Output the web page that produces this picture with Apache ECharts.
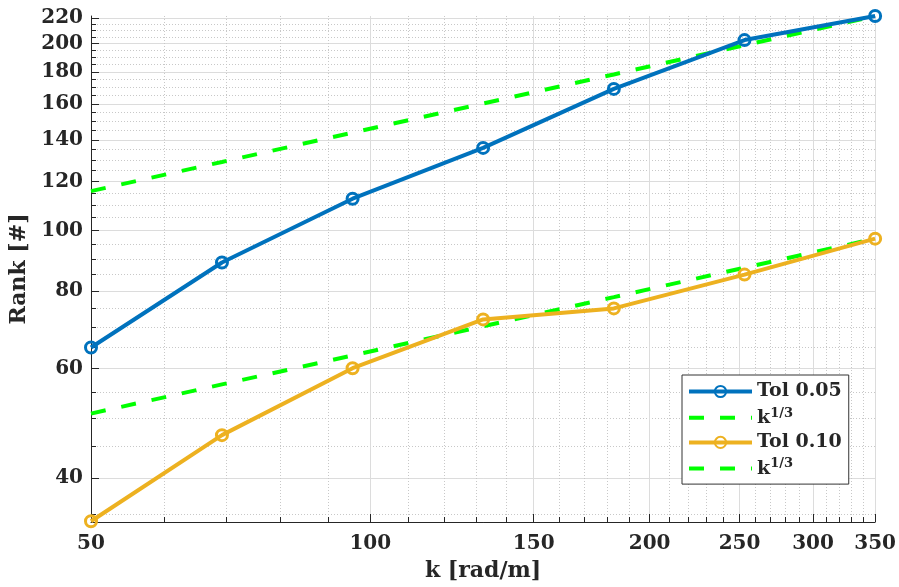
<!DOCTYPE html>
<html>
<head>
<meta charset="utf-8">
<script src="https://cdn.jsdelivr.net/npm/echarts@6/dist/echarts.min.js"></script>
<style>
  html, body { margin: 0; padding: 0; background: #ffffff; }
  #chart { width: 899px; height: 587px; }
</style>
</head>
<body>
<div id="chart"></div>
<script>
// Wavenumber samples (rad/m)
const kValues = [50, 69.2, 95.7, 132.3, 183.0, 253.1, 350];
// Rank for tolerance 0.05 and its k^(1/3) reference line
const rankTol005 = [64.9, 88.9, 112.6, 135.9, 169.1, 202.6, 221.5];
const fitTol005 = [115.8, 129.0, 143.8, 160.2, 178.4, 198.8, 221.5];
// Rank for tolerance 0.10 and its k^(1/3) reference line
const rankTol010 = [34.1, 46.9, 60.1, 72.0, 75.0, 85.0, 97.1];
const fitTol010 = [50.8, 56.6, 63.0, 70.2, 78.2, 87.2, 97.1];

// Tick values
const xMajorTicks = [50, 100, 150, 200, 250, 300, 350];
const xMinorTicks = [60, 70, 80, 90, 110, 120, 130, 140, 160, 170, 180, 190,
  210, 220, 230, 240, 260, 270, 280, 290, 310, 320, 330, 340];
const yMajorTicks = [40, 60, 80, 100, 120, 140, 160, 180, 200, 220];
const yMinorTicks = [35, 45, 50, 55, 65, 70, 75, 85, 90, 95, 105, 110, 115,
  125, 130, 135, 145, 150, 155, 165, 170, 175, 185, 190, 195, 205, 210, 215];

const X_MIN = 50, X_MAX = 350, Y_MIN = 34.0, Y_MAX = 221.5;

const FONT = 'DejaVu Serif';
const INK = '#262626';
const BLUE = '#0072BD';
const ORANGE = '#EDB120';
const GREEN = '#00FF00';

const pairs = ys => kValues.map((k, i) => [k, ys[i]]);

const majorAxisCommon = {
  type: 'log',
  logBase: 10,
  axisLine: { show: true, lineStyle: { color: INK, width: 1 } },
  axisTick: { show: true, inside: true, length: 8, lineStyle: { color: INK, width: 1 } },
  axisLabel: { color: INK, fontFamily: FONT, fontWeight: 'bold', fontSize: 20 },
  splitLine: { show: true, lineStyle: { color: '#dcdcdc', width: 1, type: 'solid' } },
  minorTick: { show: false },
  minorSplitLine: { show: false },
  nameLocation: 'middle',
  nameTextStyle: { color: INK, fontFamily: FONT, fontWeight: 'bold', fontSize: 22 }
};

const minorAxisCommon = {
  type: 'log',
  logBase: 10,
  axisLine: { show: false },
  axisTick: { show: true, inside: true, length: 5, lineStyle: { color: INK, width: 1 } },
  axisLabel: { show: false },
  splitLine: { show: true, lineStyle: { color: '#c8c8c8', width: 1, type: [1, 2] } },
  minorTick: { show: false },
  minorSplitLine: { show: false }
};

const lineSeries = (name, data, color) => ({
  name: name,
  type: 'line',
  xAxisIndex: 0,
  yAxisIndex: 0,
  data: pairs(data),
  symbol: 'circle',
  symbolSize: 11,
  showSymbol: true,
  lineStyle: { color: color, width: 4 },
  itemStyle: { color: 'rgba(255,255,255,0)', borderColor: color, borderWidth: 3 },
  emphasis: { disabled: true },
  z: 3
});

const fitSeries = (name, data) => ({
  name: name,
  type: 'line',
  xAxisIndex: 0,
  yAxisIndex: 0,
  data: pairs(data),
  symbol: 'none',
  showSymbol: false,
  lineStyle: { color: GREEN, width: 4, type: [15, 16] },
  itemStyle: { color: 'rgba(0,0,0,0)', borderWidth: 0 },
  emphasis: { disabled: true },
  z: 2
});

const chart = echarts.init(document.getElementById('chart'), null, { renderer: 'canvas' });

chart.setOption({
  animation: false,
  backgroundColor: '#ffffff',
  grid: { left: 91, right: 23, top: 16, bottom: 64, containLabel: false },
  xAxis: [
    Object.assign({}, majorAxisCommon, {
      position: 'bottom',
      min: X_MIN, max: X_MAX,
      name: 'k [rad/m]',
      nameGap: 38,
      axisTick: Object.assign({}, majorAxisCommon.axisTick, { customValues: xMajorTicks }),
      axisLabel: Object.assign({}, majorAxisCommon.axisLabel, { customValues: xMajorTicks, margin: 12 })
    }),
    Object.assign({}, minorAxisCommon, {
      position: 'bottom',
      min: X_MIN, max: X_MAX,
      axisTick: Object.assign({}, minorAxisCommon.axisTick, { customValues: xMinorTicks })
    })
  ],
  yAxis: [
    Object.assign({}, majorAxisCommon, {
      position: 'left',
      min: Y_MIN, max: Y_MAX,
      name: 'Rank [#]',
      nameGap: 59,
      nameRotate: 90,
      axisTick: Object.assign({}, majorAxisCommon.axisTick, { customValues: yMajorTicks }),
      axisLabel: Object.assign({}, majorAxisCommon.axisLabel, { customValues: yMajorTicks, margin: 8 })
    }),
    Object.assign({}, minorAxisCommon, {
      position: 'left',
      min: Y_MIN, max: Y_MAX,
      axisTick: Object.assign({}, minorAxisCommon.axisTick, { customValues: yMinorTicks })
    })
  ],
  legend: {
    orient: 'vertical',
    left: 682,
    top: 375,
    padding: [7, 7, 6, 5],
    itemGap: 5.7,
    itemWidth: 63,
    itemHeight: 14,
    backgroundColor: '#ffffff',
    borderColor: '#333333',
    borderWidth: 1,
    borderRadius: 0,
    selectedMode: false,
    data: [
      { name: 'Tol 0.05', lineStyle: { width: 4 } },
      { name: 'k^1/3 (0.05)', lineStyle: { width: 4 }, itemStyle: { color: 'rgba(0,0,0,0)', borderWidth: 0 } },
      { name: 'Tol 0.10', lineStyle: { width: 4 } },
      { name: 'k^1/3 (0.10)', lineStyle: { width: 4 }, itemStyle: { color: 'rgba(0,0,0,0)', borderWidth: 0 } }
    ],
    formatter: function (name) {
      return name.indexOf('Tol') === 0 ? '{t|' + name + '}' : '{t|k}{s|1/3}';
    },
    textStyle: {
      color: INK,
      fontFamily: FONT,
      fontWeight: 'bold',
      fontSize: 19,
      rich: {
        t: { color: INK, fontFamily: FONT, fontWeight: 'bold', fontSize: 19, lineHeight: 22, verticalAlign: 'middle' },
        s: { color: INK, fontFamily: FONT, fontWeight: 'bold', fontSize: 13, lineHeight: 13, verticalAlign: 'top' }
      }
    }
  },
  series: [
    lineSeries('Tol 0.05', rankTol005, BLUE),
    fitSeries('k^1/3 (0.05)', fitTol005),
    lineSeries('Tol 0.10', rankTol010, ORANGE),
    fitSeries('k^1/3 (0.10)', fitTol010)
  ]
});
</script>
</body>
</html>
